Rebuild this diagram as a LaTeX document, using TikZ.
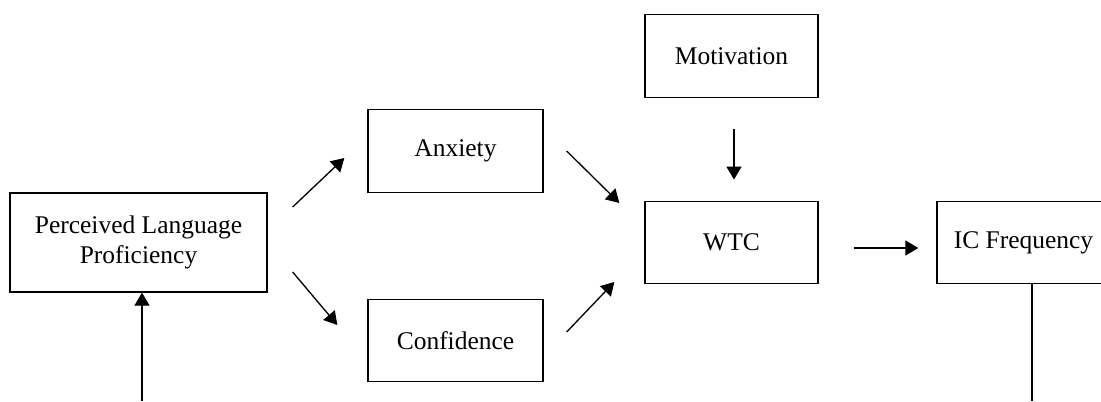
\documentclass[tikz,border=0pt]{standalone}
\usepackage{fontspec}
\setmainfont{Liberation Serif}
\usetikzlibrary{arrows.meta}

\tikzset{
  blk/.style={draw, line width=0.75pt, minimum width=3.46cm, minimum height=1.65cm,
    inner sep=0pt, align=center, font=\fontsize{14.5}{17.5}\selectfont},
  arr/.style={line width=0.75pt, -{Triangle[length=0.26cm,width=0.3cm]}}
}

\begin{document}
\begin{tikzpicture}

  \useasboundingbox (0,0) rectangle (22.02,8.02);

  \node[blk, minimum width=5.14cm, minimum height=1.98cm] at (2.77, 3.17) (plp) {Perceived Language\\Proficiency};
  \node[blk, minimum width=3.5cm] at (9.11, 5.00) (anx) {Anxiety};
  \node[blk, minimum width=3.5cm] at (9.11, 1.21) (conf) {Confidence};
  \node[blk] at (14.63, 6.90) (mot) {Motivation};
  \node[blk] at (14.63, 3.17) (wtc) {WTC};
  \node[blk] at (20.47, 3.17) (ic) {IC Frequency};

  \coordinate (plpin) at (2.84, 0);
  \coordinate (icout) at (20.64, 0);

  \draw[arr] (plpin) -- (plpin |- plp.south);
  \draw[line width=0.75pt] (ic.south -| icout) -- (icout);

  \draw[arr] ([shift={(0.50,0.71)}]plp.east) -- ([shift={(-0.46,-0.14)}]anx.west);
  \draw[arr] ([shift={(0.50,-0.59)}]plp.east) -- ([shift={(-0.60,0.31)}]conf.west);

  \draw[arr] ([shift={(0.46,0)}]anx.east) -- ([shift={(-0.50,0.79)}]wtc.west);
  \draw[arr] ([shift={(0.46,0.17)}]conf.east) -- ([shift={(-0.60,-0.79)}]wtc.west);

  \draw[arr, shorten <=0.62cm, shorten >=0.42cm] ([xshift=0.05cm]mot.south) -- ([xshift=0.05cm]wtc.north);
  \draw[arr, shorten <=0.70cm, shorten >=0.36cm] ([yshift=-0.11cm]wtc.east) -- ([yshift=-0.11cm]wtc.east -| ic.west);

\end{tikzpicture}
\end{document}
